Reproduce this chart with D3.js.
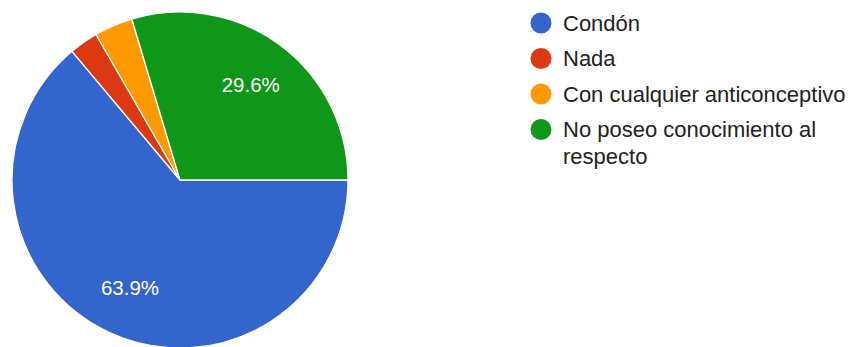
<!DOCTYPE html>
<html>
<head>
<meta charset="utf-8">
<script src="https://cdn.jsdelivr.net/npm/d3@7"></script>
<style>
  html, body { margin: 0; padding: 0; background: #fff; }
  svg { display: block; }
  text { font-family: Arial, "Liberation Sans", sans-serif; }
</style>
</head>
<body>
<svg id="chart" width="858" height="347"></svg>
<script>
// Responses per option
const categories = ["Condón", "Nada", "Con cualquier anticonceptivo", "No poseo conocimiento al respecto"];
const values = [69, 3, 4, 32];
const colors = ["#3366cc", "#dc3912", "#ff9900", "#109618"];

const width = 858, height = 347;
const cx = 180, cy = 180, radius = 168;

const svg = d3.select("#chart");
const total = d3.sum(values);
const data = categories.map((c, i) => ({ name: c, value: values[i], color: colors[i] }));

// Pie begins at three o'clock and runs clockwise
const pie = d3.pie()
  .value(d => d.value)
  .sort(null)
  .startAngle(Math.PI / 2)
  .endAngle(Math.PI / 2 + 2 * Math.PI);

const arc = d3.arc().innerRadius(0).outerRadius(radius);
const labelArc = d3.arc().innerRadius(radius * 0.705).outerRadius(radius * 0.705);

const g = svg.append("g").attr("transform", `translate(${cx},${cy})`);
const arcs = pie(data);

g.selectAll("path.slice")
  .data(arcs)
  .join("path")
  .attr("class", "slice")
  .attr("d", arc)
  .attr("fill", d => d.data.color)
  .attr("stroke", "#fff")
  .attr("stroke-width", 1.3)
  .attr("stroke-linejoin", "round");

// Percentage labels only on the larger slices
const fmt = d3.format(".1%");
g.selectAll("text.pct")
  .data(arcs.filter(d => d.data.value / total >= 0.05))
  .join("text")
  .attr("class", "pct")
  .attr("transform", d => `translate(${labelArc.centroid(d)})`)
  .attr("text-anchor", "middle")
  .attr("dy", "0.35em")
  .attr("fill", "#fff")
  .attr("font-size", 20.5)
  .text(d => fmt(d.data.value / total));

// Legend
const legendX = 541, textX = 563, rowTop = 23, rowStep = 35.5, lineStep = 27;
const maxTextWidth = width - textX - 2;
const legend = svg.append("g");

let y = rowTop;
data.forEach(d => {
  legend.append("circle")
    .attr("cx", legendX)
    .attr("cy", y)
    .attr("r", 10.5)
    .attr("fill", d.color);

  const t = legend.append("text")
    .attr("x", textX)
    .attr("y", y)
    .attr("dy", "0.35em")
    .attr("fill", "#222")
    .attr("font-size", 22);

  // wrap words onto extra lines when the row is too wide
  const words = d.name.split(" ");
  let line = [];
  let tspan = t.append("tspan").attr("x", textX);
  let lines = 1;
  words.forEach(w => {
    line.push(w);
    tspan.text(line.join(" "));
    if (tspan.node().getComputedTextLength() > maxTextWidth && line.length > 1) {
      line.pop();
      tspan.text(line.join(" "));
      line = [w];
      tspan = t.append("tspan").attr("x", textX).attr("dy", lineStep).text(w);
      lines++;
    }
  });
  y += rowStep + (lines - 1) * lineStep;
});
</script>
</body>
</html>
